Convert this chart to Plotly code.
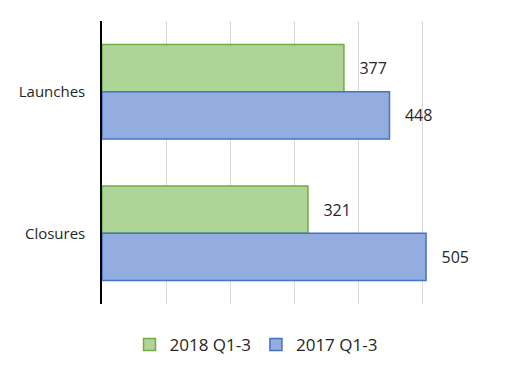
import plotly.graph_objects as go

categories = ["Launches", "Closures"]
series_2018 = [377, 321]
series_2017 = [448, 505]
names = ["2018 Q1-3", "2017 Q1-3"]

fig = go.Figure()
fig.add_trace(go.Bar(
    y=categories, x=series_2018, name=names[0], orientation="h",
    marker=dict(color="#afd498", line=dict(color="#70ad47", width=1.5)),
    texttemplate="   %{x}", textposition="outside",
    textfont=dict(size=16, color="#262626", family="Open Sans"),
    cliponaxis=False,
))
fig.add_trace(go.Bar(
    y=categories, x=series_2017, name=names[1], orientation="h",
    marker=dict(color="#94ade0", line=dict(color="#4472c4", width=1.5)),
    texttemplate="   %{x}", textposition="outside",
    textfont=dict(size=16, color="#262626", family="Open Sans"),
    cliponaxis=False,
))

fig.update_layout(
    width=510, height=375,
    margin=dict(l=102, r=23, t=21, b=71),
    paper_bgcolor="white", plot_bgcolor="white",
    barmode="group", bargap=0.333, bargroupgap=0,
    font=dict(family="Open Sans", size=15, color="#262626"),
    showlegend=True,
    legend=dict(orientation="h", x=0.40, xanchor="center", y=-0.145, yanchor="middle",
                font=dict(size=17, color="#262626"), itemwidth=30),
    xaxis=dict(range=[0, 600], dtick=100, showticklabels=False, showgrid=True,
               gridcolor="#d9d9d9", gridwidth=1, zeroline=False, showline=False,
               ticks=""),
    yaxis=dict(autorange="reversed", showline=True, linecolor="black", linewidth=1.5,
               ticks="", ticklen=0, ticklabelstandoff=12,
               tickfont=dict(size=15, color="#262626"),
               showgrid=False),
)

fig.write_html("out.html")
